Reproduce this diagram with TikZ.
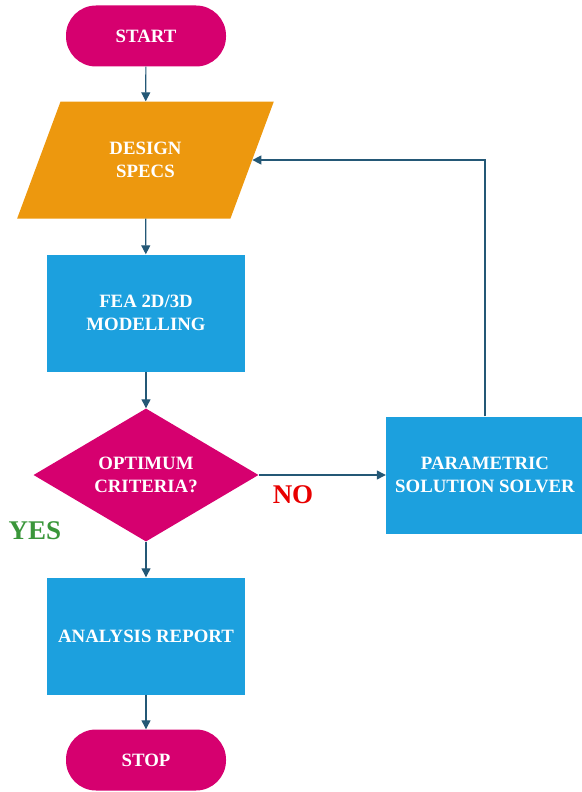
\documentclass[tikz,border=0pt]{standalone}
\usepackage{fontspec}
\setmainfont{Liberation Serif}
\usetikzlibrary{shapes.geometric, arrows.meta}

\definecolor{termcol}{RGB}{214,0,111}
\definecolor{iocol}{RGB}{237,152,14}
\definecolor{proccol}{RGB}{28,160,222}
\definecolor{linecol}{RGB}{36,88,118}
\definecolor{yescol}{RGB}{58,150,58}
\definecolor{nocol}{RGB}{232,0,0}

\begin{document}
\begin{tikzpicture}[x = 1pt, y = -1pt,
	box/.style = {text = white, font = \bfseries\fontsize{18.8}{23.5}\selectfont, align = center, inner sep = 0pt},
	terminal/.style = {box, fill = termcol, rounded corners = 30pt, minimum width = 160pt, minimum height = 61pt},
	io/.style = {box, fill = iocol, shape = trapezium, trapezium left angle = 63, trapezium right angle = 117, trapezium stretches = true, minimum width = 257pt, minimum height = 117pt},
	process/.style = {box, fill = proccol, minimum width = 198pt, minimum height = 117pt},
	decision/.style = {box, fill = termcol, shape = diamond, aspect = 1.7, minimum width = 225pt, minimum height = 133pt},
	answer/.style = {font = \bfseries\fontsize{27}{30}\selectfont, inner sep = 0pt},
	flow/.style = {draw = linecol, line width = 1.2pt, -{Triangle[width = 9pt, length = 9pt]}}]
	
		\useasboundingbox (0, 0) rectangle (581, 792);
		
		\node[terminal] (start) at (146, 36) {START};
		\node[io] (specs) at (145.5, 160) {DESIGN\\SPECS};
		\node[process] (fea) at (146, 313) {FEA 2D/3D\\MODELLING};
		\node[decision] (crit) at (146, 475) {OPTIMUM\\CRITERIA?};
		\node[process] (solver) at (485, 475) {PARAMETRIC\\SOLUTION SOLVER};
		\node[process] (report) at (146, 636) {ANALYSIS REPORT};
		\node[terminal] (stop) at (146, 760) {STOP};
		
		\node[answer, text = nocol] (no) at (293, 495) {NO};
		\node[answer, text = yescol] (yes) at (35, 531) {YES};
		
		\draw[flow] (start) -- (specs);
		\draw[flow] (specs) -- (fea);
		\draw[flow] (fea) -- (crit);
		\draw[flow] (crit) -- (report);
		\draw[flow] (report) -- (stop);
		\draw[flow] (crit) -- (solver);
		
		% back to the specs
		\draw[flow] (solver.north) |- (specs.right side);
	
	\end{tikzpicture}
\end{document}
